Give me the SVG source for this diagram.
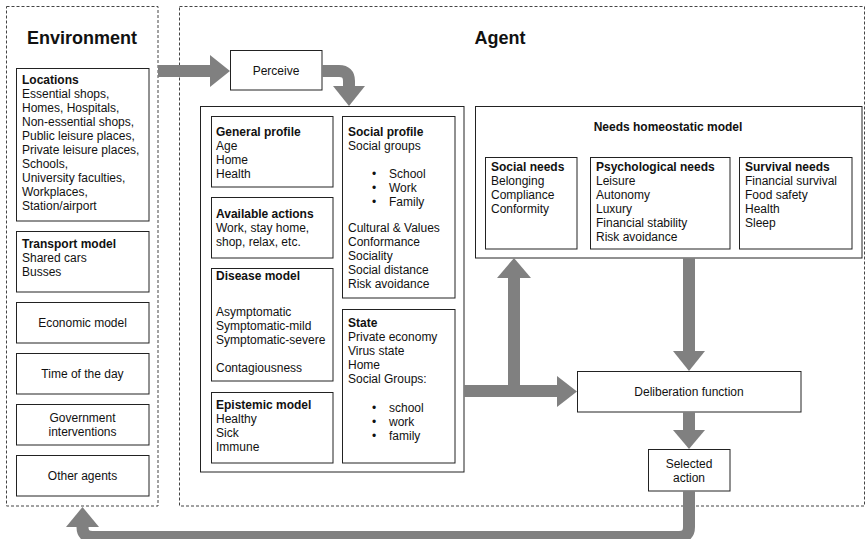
<svg xmlns="http://www.w3.org/2000/svg" width="868" height="539" viewBox="0 0 868 539">
<style>
text{font-family:"Liberation Sans",Arial,Helvetica,sans-serif;font-size:12px;fill:#111}
.b{font-weight:bold}
.t{font-weight:bold;font-size:18px}
.c{text-anchor:middle}
.box{fill:#fff;stroke:#222;stroke-width:1}
.dash{fill:none;stroke:#444;stroke-width:1;stroke-dasharray:3 2}
.shaft{fill:none;stroke:#808080;stroke-width:12;stroke-linejoin:round}
.head{fill:#808080}
</style>
<rect width="868" height="539" fill="#fff"/>
<g id="environment">
<rect class="dash" x="6.5" y="6.5" width="151.5" height="499.5"/>
<text class="t c" x="82" y="44">Environment</text>
</g>
<g id="agent">
<rect class="dash" x="179.5" y="6.5" width="685" height="499.5"/>
<text class="t c" x="500" y="44">Agent</text>
</g>
<g id="locations">
<rect class="box" x="16.5" y="68.5" width="132.5" height="152.5"/>
<text x="22" y="84"><tspan class="b">Locations</tspan><tspan x="22" dy="14">Essential shops,</tspan><tspan x="22" dy="14">Homes, Hospitals,</tspan><tspan x="22" dy="14">Non-essential shops,</tspan><tspan x="22" dy="14">Public leisure places,</tspan><tspan x="22" dy="14">Private leisure places,</tspan><tspan x="22" dy="14">Schools,</tspan><tspan x="22" dy="14">University faculties,</tspan><tspan x="22" dy="14">Workplaces,</tspan><tspan x="22" dy="14">Station/airport</tspan></text>
</g>
<g id="transport">
<rect class="box" x="16.5" y="231.5" width="132.5" height="60.5"/>
<text x="22" y="248"><tspan class="b">Transport model</tspan><tspan x="22" dy="14">Shared cars</tspan><tspan x="22" dy="14">Busses</tspan></text>
</g>
<g id="economic">
<rect class="box" x="16.5" y="302.5" width="132.5" height="40.5"/>
<text class="c" x="82.5" y="327">Economic model</text>
</g>
<g id="timeofday">
<rect class="box" x="16.5" y="353.5" width="132.5" height="40.5"/>
<text class="c" x="82.5" y="378">Time of the day</text>
</g>
<g id="government">
<rect class="box" x="16.5" y="404.5" width="132.5" height="40.5"/>
<text class="c" x="82.5" y="422">Government<tspan x="82.5" dy="14">interventions</tspan></text>
</g>
<g id="otheragents">
<rect class="box" x="16.5" y="455.5" width="132.5" height="40.5"/>
<text class="c" x="82.5" y="480">Other agents</text>
</g>
<g id="perceive">
<rect class="box" x="230.5" y="50.5" width="91.5" height="39.5"/>
<text class="c" x="276" y="75">Perceive</text>
</g>
<g id="profile">
<rect class="box" x="200.5" y="106.5" width="263.5" height="365.5"/>
</g>
<g id="general">
<rect class="box" x="211.5" y="116.5" width="121.5" height="70.5"/>
<text x="216" y="136"><tspan class="b">General profile</tspan><tspan x="216" dy="14">Age</tspan><tspan x="216" dy="14">Home</tspan><tspan x="216" dy="14">Health</tspan></text>
</g>
<g id="actions">
<rect class="box" x="211.5" y="197.5" width="121.5" height="60.5"/>
<text x="216" y="218"><tspan class="b">Available actions</tspan><tspan x="216" dy="14">Work, stay home,</tspan><tspan x="216" dy="14">shop, relax, etc.</tspan></text>
</g>
<g id="disease">
<rect class="box" x="211.5" y="268.5" width="121.5" height="112.5"/>
<text x="216" y="280"><tspan class="b">Disease model</tspan><tspan x="216" dy="36">Asymptomatic</tspan><tspan x="216" dy="14">Symptomatic-mild</tspan><tspan x="216" dy="14">Symptomatic-severe</tspan><tspan x="216" dy="28">Contagiousness</tspan></text>
</g>
<g id="epistemic">
<rect class="box" x="211.5" y="392.5" width="121.5" height="70.5"/>
<text x="216" y="409"><tspan class="b">Epistemic model</tspan><tspan x="216" dy="14">Healthy</tspan><tspan x="216" dy="14">Sick</tspan><tspan x="216" dy="14">Immune</tspan></text>
</g>
<g id="social">
<rect class="box" x="342.5" y="116.5" width="112.5" height="181.5"/>
<text x="348" y="136"><tspan class="b">Social profile</tspan><tspan x="348" dy="14">Social groups</tspan></text>
<text x="372" y="178">•<tspan x="389">School</tspan><tspan x="372" dy="14">•</tspan><tspan x="389">Work</tspan><tspan x="372" dy="14">•</tspan><tspan x="389">Family</tspan></text>
<text x="348" y="232">Cultural &amp; Values<tspan x="348" dy="14">Conformance</tspan><tspan x="348" dy="14">Sociality</tspan><tspan x="348" dy="14">Social distance</tspan><tspan x="348" dy="14">Risk avoidance</tspan></text>
</g>
<g id="state">
<rect class="box" x="342.5" y="309.5" width="112.5" height="153.5"/>
<text x="348" y="327"><tspan class="b">State</tspan><tspan x="348" dy="14">Private economy</tspan><tspan x="348" dy="14">Virus state</tspan><tspan x="348" dy="14">Home</tspan><tspan x="348" dy="14">Social Groups:</tspan></text>
<text x="372" y="412">•<tspan x="389">school</tspan><tspan x="372" dy="14">•</tspan><tspan x="389">work</tspan><tspan x="372" dy="14">•</tspan><tspan x="389">family</tspan></text>
</g>
<g id="needs">
<rect class="box" x="475.5" y="106.5" width="386.5" height="151.5"/>
<text class="b c" x="668" y="131">Needs homeostatic model</text>
</g>
<g id="socialneeds">
<rect class="box" x="485.5" y="157.5" width="91.5" height="91.5"/>
<text x="491" y="171"><tspan class="b">Social needs</tspan><tspan x="491" dy="14">Belonging</tspan><tspan x="491" dy="14">Compliance</tspan><tspan x="491" dy="14">Conformity</tspan></text>
</g>
<g id="psychneeds">
<rect class="box" x="590.5" y="157.5" width="139.5" height="91.5"/>
<text x="596" y="171"><tspan class="b">Psychological needs</tspan><tspan x="596" dy="14">Leisure</tspan><tspan x="596" dy="14">Autonomy</tspan><tspan x="596" dy="14">Luxury</tspan><tspan x="596" dy="14">Financial stability</tspan><tspan x="596" dy="14">Risk avoidance</tspan></text>
</g>
<g id="survivalneeds">
<rect class="box" x="739.5" y="157.5" width="112.5" height="91.5"/>
<text x="745" y="171"><tspan class="b">Survival needs</tspan><tspan x="745" dy="14">Financial survival</tspan><tspan x="745" dy="14">Food safety</tspan><tspan x="745" dy="14">Health</tspan><tspan x="745" dy="14">Sleep</tspan></text>
</g>
<g id="deliberation">
<rect class="box" x="577.5" y="371.5" width="223.5" height="40.5"/>
<text class="c" x="689" y="396">Deliberation function</text>
</g>
<g id="selected">
<rect class="box" x="648.5" y="449.5" width="81.5" height="41.5"/>
<text class="c" x="689" y="468">Selected<tspan x="689" dy="14">action</tspan></text>
</g>
<g id="connectors">
<path class="shaft" d="M158,71 H212"/>
<polygon class="head" points="210,55 230,71 210,87"/>
<path class="shaft" d="M322,71 H339 Q349,71 349,81 V88"/>
<polygon class="head" points="333,86 365,86 349,106"/>
<path class="shaft" d="M464,391 H559"/>
<polygon class="head" points="557,376 577,391.5 557,407"/>
<path class="shaft" d="M514,391 V276"/>
<polygon class="head" points="497,278 531,278 514,258"/>
<path class="shaft" d="M689,258 V353"/>
<polygon class="head" points="673,351 705,351 689,371"/>
<path class="shaft" d="M689,412 V432"/>
<polygon class="head" points="673,430 705,430 689,449"/>
<path class="shaft" d="M689,491 V527 Q689,537 679,537 H92.5 Q82.5,537 82.5,527 V525"/>
<polygon class="head" points="66,527 99,527 82.5,507"/>
</g>
</svg>
